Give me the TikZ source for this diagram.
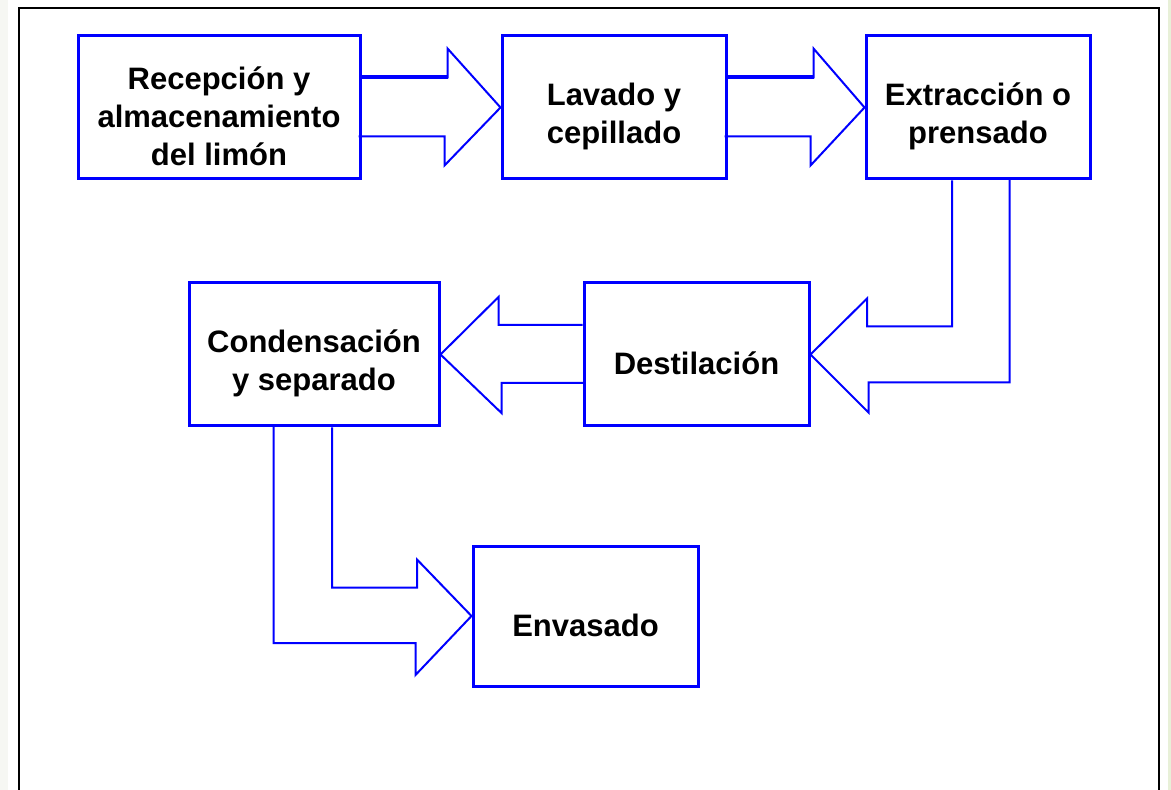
\documentclass[tikz,border=0pt]{standalone}
\usepackage{fontspec}
\setmainfont{Liberation Sans}
\usetikzlibrary{positioning}

\definecolor{flowblue}{RGB}{0,0,255}
\definecolor{leftstrip}{RGB}{246,247,243}
\definecolor{rightstrip}{RGB}{232,240,216}

\begin{document}
\begin{tikzpicture}[
    x=0.5pt, y=-0.5pt,
    stage/.style={
        rectangle,
        draw=flowblue,
        line width=1.5pt,
        fill=white
    },
    stage text/.style={
        align=center,
        font=\fontsize{15.5}{19}\selectfont\bfseries
    },
    flow/.style={
        draw=flowblue,
        line width=1pt,
        line join=miter
    }
]

\useasboundingbox (0,0) rectangle (1171,790);
\fill[leftstrip] (0,0) rectangle (8,790);
\fill[rightstrip] (1168,0) rectangle (1171,790);
\draw[line width=1.2pt] (19,800) -- (19,8) -- (1159,8) -- (1159,800);

% Top row
\node [stage, minimum width=141pt, minimum height=71.5pt] (recep) at (219,107.5) {};
\node [stage text] (recep-t) at ([yshift=-4.5pt]recep.center) {Recepción y\\almacenamiento\\del limón};

\node [stage, minimum width=112pt, minimum height=71.5pt] (lavado) at (614,107.5) {};
\node [stage text] (lavado-t) at ([yshift=-4.5pt]lavado.center) {Lavado y\\cepillado};

\node [stage, minimum width=112pt, minimum height=71.5pt] (extrac) at (978,107.5) {};
\node [stage text] (extrac-t) at ([yshift=-4.5pt]extrac.center) {Extracción o\\prensado};

% Middle row
\node [stage, minimum width=125pt, minimum height=71.5pt] (condens) at (314,354.5) {};
\node [stage text] (condens-t) at ([yshift=-4.5pt]condens.center) {Condensación\\y separado};

\node [stage, minimum width=112.5pt, minimum height=71.5pt] (destil) at (696.5,354.5) {};
\node [stage text] (destil-t) at ([yshift=-4.5pt]destil.center) {Destilación};

% Bottom row
\node [stage, minimum width=112.5pt, minimum height=70pt] (envas) at (585.5,616) {};
\node [stage text] (envas-t) at ([yshift=-4.5pt]envas.center) {Envasado};

% Draw the block arrows
\draw [flow] (recep.east) ++(0,-30) -- ++(86,0) -- ++(0,-29) -- (lavado.west)
    -- ++(-56,58) -- ++(0,-29) -- ++(-86,0);
\draw [flow, line width=2pt] (recep.east) ++(0,-30) -- ++(86,0);

\draw [flow] (lavado.east) ++(0,-30) -- ++(86,0) -- ++(0,-29) -- (extrac.west)
    -- ++(-54,58) -- ++(0,-29) -- ++(-86,0);
\draw [flow, line width=2pt] (lavado.east) ++(0,-30) -- ++(86,0);

\draw [flow] (extrac.south) ++(-26,0) -- ++(0,146) -- ++(-85,0) -- ++(0,-28) -- (destil.east)
    -- ++(58,58) -- ++(0,-30) -- ++(141,0) -- ++(0,-204);

\draw [flow] (destil.west) ++(0,-29.5) -- ++(-84,0) -- ++(0,-28) -- (condens.east)
    -- ++(61,58.5) -- ++(0,-30) -- ++(84,0);

\draw [flow] (condens.south) ++(18,0) -- ++(0,160) -- ++(85,0) -- ++(0,-28) -- (envas.west)
    -- ++(-56,59) -- ++(0,-32) -- ++(-142,0) -- ++(0,-217);

\end{tikzpicture}
\end{document}
